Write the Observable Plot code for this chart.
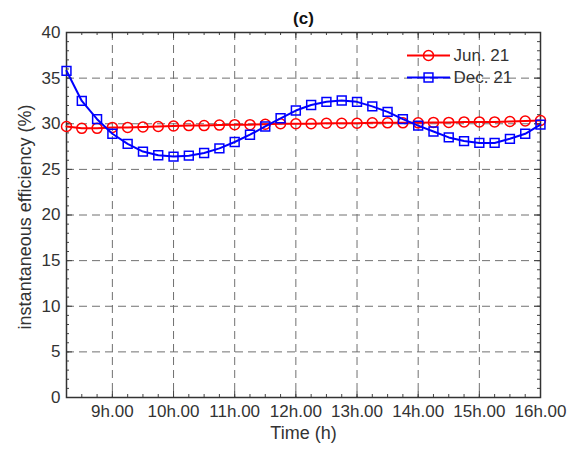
<!DOCTYPE html>
<html><head><meta charset="utf-8">
<script src="https://cdn.jsdelivr.net/npm/d3@7"></script>
<script src="https://cdn.jsdelivr.net/npm/@observablehq/plot@0.6"></script>
<style>body{margin:0;background:#fff;}</style>
</head><body><div id="chart"></div>
<script>
const hours = [8.25, 8.5, 8.75, 9, 9.25, 9.5, 9.75, 10, 10.25, 10.5, 10.75, 11, 11.25, 11.5, 11.75, 12,
  12.25, 12.5, 12.75, 13, 13.25, 13.5, 13.75, 14, 14.25, 14.5, 14.75, 15, 15.25, 15.5, 15.75, 16];
const junEff = [29.7, 29.5, 29.5, 29.6, 29.6, 29.65, 29.7, 29.75, 29.8, 29.8, 29.85, 29.9, 29.9, 29.95, 30.0, 30.0,
  30.0, 30.05, 30.05, 30.05, 30.1, 30.1, 30.1, 30.1, 30.15, 30.15, 30.2, 30.2, 30.2, 30.25, 30.3, 30.35];
const decEff = [35.8, 32.5, 30.5, 28.9, 27.8, 26.95, 26.55, 26.4, 26.5, 26.8, 27.3, 28.0, 28.8, 29.7, 30.6, 31.45,
  32.05, 32.4, 32.55, 32.4, 31.9, 31.3, 30.5, 29.8, 29.15, 28.5, 28.1, 27.9, 27.9, 28.35, 28.9, 29.9];
const xTicks = [9, 10, 11, 12, 13, 14, 15, 16];
const xTickLabels = ["9h.00", "10h.00", "11h.00", "12h.00", "13h.00", "14h.00", "15h.00", "16h.00"];
const yTicks = [0, 5, 10, 15, 20, 25, 30, 35, 40];
const seriesNames = ["Jun. 21", "Dec. 21"];
const seriesColors = ["#ff0000", "#0000ff"];
const seriesSymbols = ["circle", "square"];

const W = 574, H = 452, mL = 66, mR = 34, mT = 32, mB = 55;
const fw = W - mL - mR, fh = H - mT - mB;
const minorX = d3.range(8.25, 16.001, 0.25);
const minorY = d3.range(0, 40.001, 1);

const jun = hours.map((h, i) => ({h, v: junEff[i]}));
const dec = hours.map((h, i) => ({h, v: decEff[i]}));

const lineSymbol = {draw(ctx) { ctx.moveTo(-21.5, 0); ctx.lineTo(21.5, 0); }};
const tickStroke = "#444";
const gridStyle = {stroke: "#707070", strokeDasharray: "8,5", strokeWidth: 1};
const textColor = "#333";

const legendMarks = seriesNames.flatMap((name, i) => {
  const dy = 23 + i * 22;
  return [
    Plot.dot([name], {frameAnchor: "top-left", dx: 362, dy, symbol: lineSymbol, stroke: seriesColors[i], strokeWidth: 2, r: 5}),
    Plot.dot([name], {frameAnchor: "top-left", dx: 362, dy, symbol: seriesSymbols[i], stroke: seriesColors[i], fill: "none", strokeWidth: 1.5, r: 5}),
    Plot.text([name], {frameAnchor: "top-left", dx: 387, dy, text: d => d, textAnchor: "start", lineAnchor: "middle", fontSize: 17, fill: textColor})
  ];
});

const chart = Plot.plot({
  width: W, height: H,
  marginLeft: mL, marginRight: mR, marginTop: mT, marginBottom: mB,
  style: {fontFamily: "'Liberation Sans', Arial, sans-serif", background: "#fff"},
  x: {domain: [8.25, 16], axis: null},
  y: {domain: [0, 40], axis: null},
  marks: [
    Plot.ruleY(yTicks.slice(1, -1), gridStyle),
    Plot.ruleX(xTicks.slice(0, -1), gridStyle),
    // minor ticks
    Plot.ruleX(minorX, {insetTop: fh - 3, stroke: tickStroke}),
    Plot.ruleX(minorX, {insetBottom: fh - 3, stroke: tickStroke}),
    Plot.ruleY(minorY, {insetRight: fw - 3, stroke: tickStroke}),
    Plot.ruleY(minorY, {insetLeft: fw - 3, stroke: tickStroke}),
    // major ticks
    Plot.ruleX(xTicks, {insetTop: fh - 6, stroke: tickStroke}),
    Plot.ruleX(xTicks, {insetBottom: fh - 6, stroke: tickStroke}),
    Plot.ruleY(yTicks, {insetRight: fw - 6, stroke: tickStroke}),
    Plot.ruleY(yTicks, {insetLeft: fw - 6, stroke: tickStroke}),
    Plot.frame({stroke: "#333", strokeWidth: 1.5}),
    // series
    Plot.line(jun, {x: "h", y: "v", stroke: seriesColors[0], strokeWidth: 2}),
    Plot.dot(jun, {x: "h", y: "v", symbol: seriesSymbols[0], stroke: seriesColors[0], fill: "none", strokeWidth: 1.5, r: 5}),
    Plot.line(dec, {x: "h", y: "v", stroke: seriesColors[1], strokeWidth: 2}),
    Plot.dot(dec, {x: "h", y: "v", symbol: seriesSymbols[1], stroke: seriesColors[1], fill: "none", strokeWidth: 1.5, r: 5}),
    // axes
    Plot.axisX(xTicks, {tickSize: 0, tickPadding: 7, fontSize: 17, fill: textColor, tickFormat: (d) => xTickLabels[xTicks.indexOf(d)], label: null}),
    Plot.axisY(yTicks, {tickSize: 0, tickPadding: 6, fontSize: 17, fill: textColor, label: null}),
    Plot.text(["Time (h)"], {frameAnchor: "bottom", dy: 36, text: d => d, textAnchor: "middle", lineAnchor: "middle", fontSize: 18, fill: textColor}),
    Plot.text(["instantaneous efficiency (%)"], {frameAnchor: "left", dx: -41, dy: 2, rotate: -90, text: d => d, textAnchor: "middle", lineAnchor: "middle", fontSize: 18, fill: textColor}),
    Plot.text(["(c)"], {frameAnchor: "top", dy: -14, text: d => d, textAnchor: "middle", lineAnchor: "middle", fontSize: 17, fontWeight: "bold", fill: "#111"}),
    ...legendMarks
  ]
});
document.getElementById("chart").append(chart);
</script>
</body></html>
